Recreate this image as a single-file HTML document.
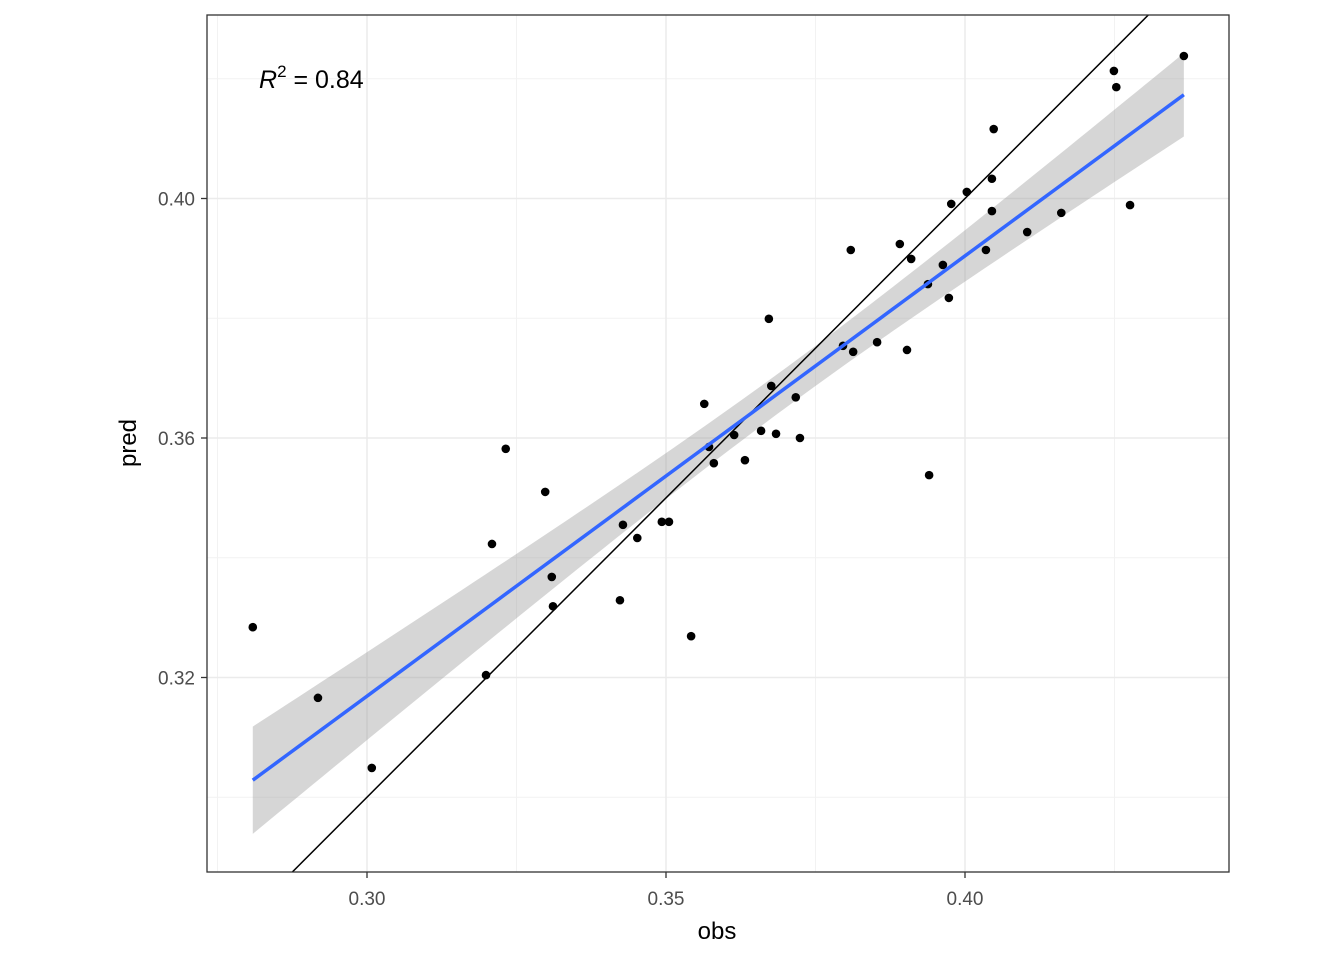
<!DOCTYPE html>
<html><head><meta charset="utf-8"><style>
body{margin:0;background:#fff;}
svg{display:block;font-family:"Liberation Sans",Arial,sans-serif;}
</style></head><body>
<svg id="chart" width="1344" height="960" viewBox="0 0 1344 960">
<defs><clipPath id="clip"><rect x="207" y="15" width="1022" height="857"/></clipPath></defs>
<rect x="207" y="15" width="1022" height="857" fill="#fff"/>
<g id="grid"></g>
<g id="band" clip-path="url(#clip)"></g>
<g id="idline" clip-path="url(#clip)"></g>
<g id="points"></g>
<g id="fit" clip-path="url(#clip)"></g>
<rect x="207" y="15" width="1022" height="857" fill="none" stroke="#333" stroke-width="1.3"/>
<g id="axes"></g>
<text x="259" y="88" font-size="25" fill="#000"><tspan font-style="italic">R</tspan><tspan dy="-11" font-size="17">2</tspan><tspan dy="11"> = 0.84</tspan></text>
<text x="717" y="939" font-size="24" text-anchor="middle" fill="#000">obs</text>
<text transform="translate(136,443) rotate(-90)" font-size="24" text-anchor="middle" fill="#000">pred</text>
</svg>
<script>
const obs=[0.2809,0.2918,0.3008,0.3199,0.3209,0.3232,0.3298,0.3309,0.3311,0.3423,0.3428,0.3452,0.3493,0.3505,0.3542,0.3564,0.3572,0.3580,0.3614,0.3632,0.3659,0.3672,0.3676,0.3684,0.3717,0.3724,0.3796,0.3809,0.3813,0.3853,0.3891,0.3903,0.3910,0.3938,0.3940,0.3963,0.3973,0.3977,0.4003,0.4035,0.4045,0.4045,0.4048,0.4104,0.4161,0.4249,0.4253,0.4276,0.4366];
const pred=[0.3284,0.3166,0.3049,0.3204,0.3423,0.3582,0.3510,0.3368,0.3319,0.3329,0.3455,0.3433,0.3460,0.3460,0.3269,0.3657,0.3585,0.3558,0.3605,0.3563,0.3612,0.3799,0.3687,0.3607,0.3668,0.3600,0.3754,0.3914,0.3744,0.3760,0.3924,0.3747,0.3899,0.3857,0.3538,0.3889,0.3834,0.3991,0.4011,0.3914,0.4033,0.3979,0.4116,0.3944,0.3976,0.4213,0.4186,0.3989,0.4238];
const xTicks=[0.30,0.35,0.40];
const xTickLabels=["0.30","0.35","0.40"];
const yTicks=[0.32,0.36,0.40];
const yTickLabels=["0.32","0.36","0.40"];
const xMinor=[0.275,0.325,0.375,0.425];
const yMinor=[0.30,0.34,0.38,0.42];
const NS="http://www.w3.org/2000/svg";
const X=v=>367+(v-0.30)*5980;
const Y=v=>438-(v-0.36)*5987.5;
function mk(tag,attrs,parent){const e=document.createElementNS(NS,tag);for(const k in attrs)e.setAttribute(k,attrs[k]);document.getElementById(parent).appendChild(e);return e;}
xMinor.forEach(v=>{const e=mk('line',{x1:X(v),x2:X(v),y1:15,y2:872,stroke:'#f2f2f2','stroke-width':1},'grid');

});
yMinor.forEach(v=>{const e=mk('line',{x1:207,x2:1229,y1:Y(v),y2:Y(v),stroke:'#f2f2f2','stroke-width':1},'grid');

});
xTicks.forEach((v,i)=>{const e=mk('line',{x1:X(v),x2:X(v),y1:15,y2:872,stroke:'#ebebeb','stroke-width':1.5},'grid');


const t=mk('line',{x1:X(v),x2:X(v),y1:872,y2:878,stroke:'#333','stroke-width':1.3},'axes');


const l=mk('text',{x:X(v),y:905,'font-size':19,'text-anchor':'middle',fill:'#4d4d4d'},'axes');l.textContent=xTickLabels[i];

});
yTicks.forEach((v,i)=>{const e=mk('line',{x1:207,x2:1229,y1:Y(v),y2:Y(v),stroke:'#ebebeb','stroke-width':1.5},'grid');


const t=mk('line',{x1:201,x2:207,y1:Y(v),y2:Y(v),stroke:'#333','stroke-width':1.3},'axes');


const l=mk('text',{x:195,y:Y(v)+7,'font-size':19,'text-anchor':'end',fill:'#4d4d4d'},'axes');l.textContent=yTickLabels[i];

});
// identity line
const idl=mk('line',{x1:X(0.27),y1:Y(0.27),x2:X(0.45),y2:Y(0.45),stroke:'#000','stroke-width':1.5},'idline');


// regression
const n=obs.length,mx=obs.reduce((a,b)=>a+b)/n,my=pred.reduce((a,b)=>a+b)/n;
let sxx=0,sxy=0;for(let i=0;i<n;i++){sxx+=(obs[i]-mx)**2;sxy+=(obs[i]-mx)*(pred[i]-my);}
const b=sxy/sxx,a=my-b*mx;let sse=0;for(let i=0;i<n;i++)sse+=(pred[i]-a-b*obs[i])**2;
const s=Math.sqrt(sse/(n-2)),tq=2.012;
const xmin=Math.min(...obs),xmax=Math.max(...obs);
let up=[],lo=[],ln=[];
for(let k=0;k<=80;k++){const x=xmin+(xmax-xmin)*k/80,yh=a+b*x,se=s*Math.sqrt(1/n+(x-mx)**2/sxx);
ln.push(X(x)+','+Y(yh));up.push(X(x)+','+Y(yh+tq*se));lo.unshift(X(x)+','+Y(yh-tq*se));}
const band=mk('polygon',{points:up.concat(lo).join(' '),fill:'#999','fill-opacity':0.4},'band');


obs.forEach((v,i)=>{const c=mk('circle',{cx:X(v),cy:Y(pred[i]),r:4.3,fill:'#000'},'points');

});
const fl=mk('polyline',{points:ln.join(' '),fill:'none',stroke:'#3366ff','stroke-width':3.5},'fit');


</script>
</body></html>
